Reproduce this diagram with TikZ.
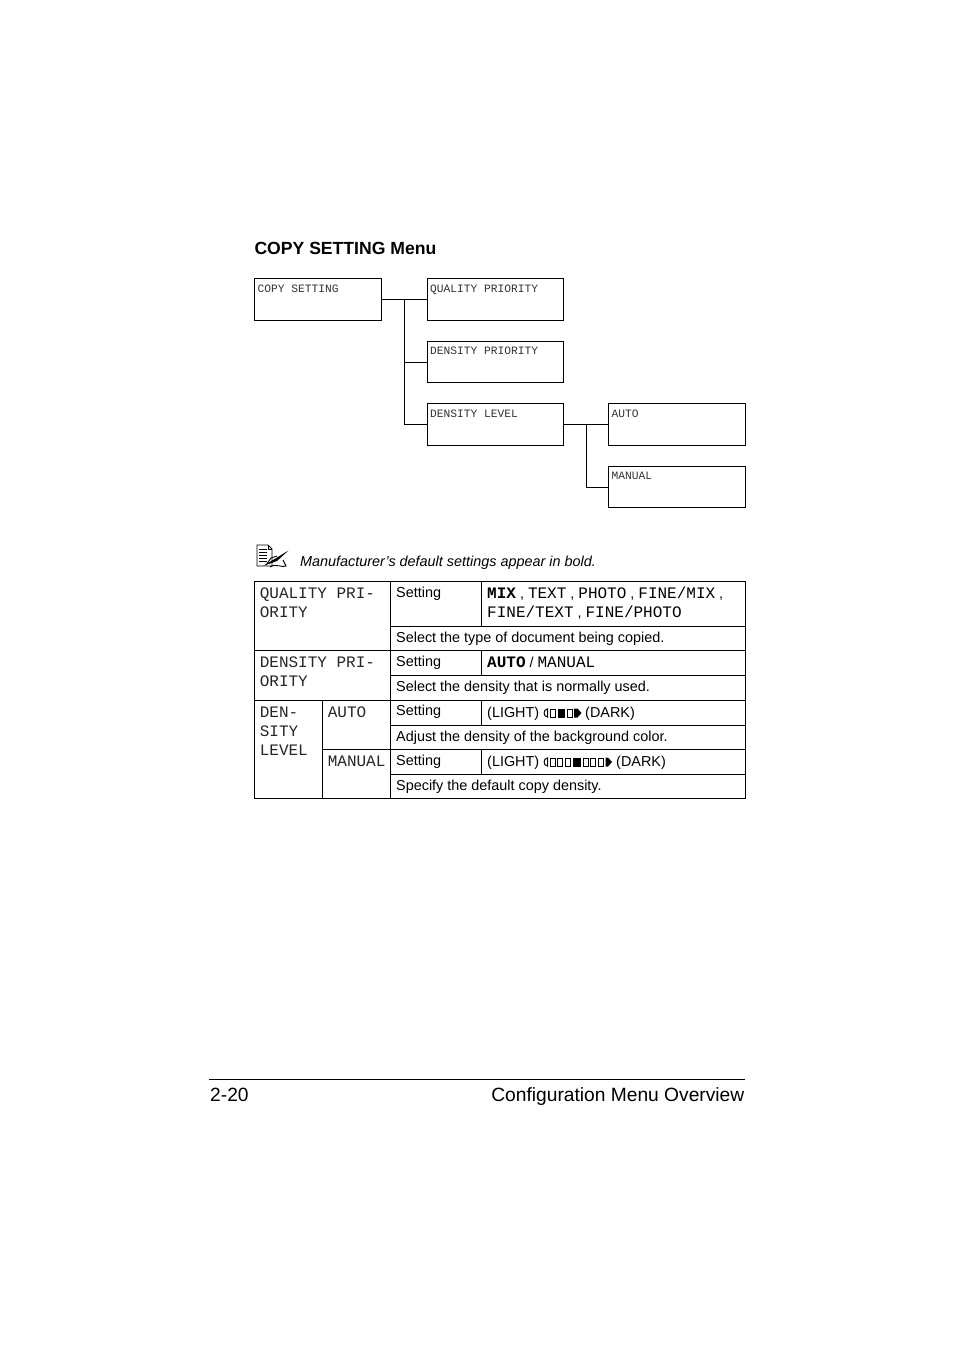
\documentclass[tikz,border=0pt]{standalone}
\usepackage{fontspec}
\setmainfont{Liberation Sans}
\setmonofont{Liberation Mono}
\newcommand{\sz}[1]{\fontsize{#1}{#1}\selectfont}
\newcommand{\mn}[1]{{\ttfamily\sz{16}#1}}
\newcommand{\mb}[1]{{\ttfamily\bfseries\sz{16}#1}}
\tikzset{
  x=1pt,y=-1pt,
  menubox/.style={draw=black,line width=0.9pt,minimum height=42pt,inner sep=0pt,outer sep=0pt,anchor=north west},
  boxlabel/.style={anchor=base west,inner sep=0pt,font=\ttfamily\fontsize{11.25}{11.25}\selectfont,text=black!80},
  wire/.style={draw=black,line width=0.9pt},
  rule/.style={draw=black,line width=0.9pt},
  cell/.style={anchor=base west,inner sep=0pt,font=\fontsize{14.4}{14.4}\selectfont},
  celltt/.style={anchor=base west,inner sep=0pt,font=\ttfamily\fontsize{16}{16}\selectfont,text=black!85},
}
\begin{document}
\begin{tikzpicture}
\useasboundingbox[fill=white] (0,0) rectangle (954,1350);
\node[anchor=base west,inner sep=0pt,font=\bfseries\fontsize{17.6}{17.6}\selectfont] (title) at (254.3,254) {COPY SETTING Menu};
% tree
\node[menubox,minimum width=127pt] (cs) at (254.5,278.5) {};
\node[menubox,minimum width=136pt] (qp) at (427.5,278.5) {};
\node[menubox,minimum width=136pt,minimum height=41pt] (dp) at (427.5,341.5) {};
\node[menubox,minimum width=136pt] (dl) at (427.5,403.5) {};
\node[menubox,minimum width=137pt] (au) at (608.5,403.5) {};
\node[menubox,minimum width=137pt,minimum height=41pt] (ma) at (608.5,466.5) {};
\node[boxlabel] (csl) at (257.5,292) {COPY SETTING};
\node[boxlabel] (qpl) at (430,292) {QUALITY PRIORITY};
\node[boxlabel] (dpl) at (430,354) {DENSITY PRIORITY};
\node[boxlabel] (dll) at (430,417) {DENSITY LEVEL};
\node[boxlabel] (aul) at (611.5,417) {AUTO};
\node[boxlabel] (mal) at (611.5,479) {MANUAL};
\coordinate (tr1) at (404.5,299.5);
\coordinate (tr2) at (586.5,424.5);
\draw[wire] (cs.east) -- (qp.west);
\draw[wire] (tr1) |- (dp.west);
\draw[wire] (tr1) |- (dl.west);
\draw[wire] (dl.east) -- (au.west);
\draw[wire] (tr2) |- (ma.west);
% note icon
\begin{scope}[line width=0.9pt]
\draw (257,545) -- (268,545) -- (272,549) -- (272,566) -- (257,566) -- cycle;
\draw (268,545) -- (268,549) -- (272,549);
\foreach \yy in {549,552,555,558,561} \draw (259,\yy) -- (267,\yy);
\draw (266,565) -- (271,558) -- (277,556);
\draw (270,567) .. controls (276,563) and (282,568) .. (286,566) -- (283,560);
\fill (263,566) -- (288.5,550.5) -- (277,561) -- cycle;
\end{scope}
\node[anchor=base west,inner sep=0pt,font=\itshape\fontsize{14.4}{14.4}\selectfont] (note) at (300,566) {Manufacturer’s default settings appear in bold.};
% table
\draw[rule] (254.5,581.5) rectangle (745.5,798.5);
\draw[rule] (254.5,650.5) -- (745.5,650.5);
\draw[rule] (254.5,700.5) -- (745.5,700.5);
\draw[rule] (322.5,749.5) -- (745.5,749.5);
\draw[rule] (390.5,626.5) -- (745.5,626.5);
\draw[rule] (390.5,675.5) -- (745.5,675.5);
\draw[rule] (390.5,725.5) -- (745.5,725.5);
\draw[rule] (390.5,774.5) -- (745.5,774.5);
\draw[rule] (390.5,581.5) -- (390.5,798.5);
\draw[rule] (322.5,700.5) -- (322.5,798.5);
\draw[rule] (481.5,581.5) -- (481.5,626.5);
\draw[rule] (481.5,650.5) -- (481.5,675.5);
\draw[rule] (481.5,700.5) -- (481.5,725.5);
\draw[rule] (481.5,749.5) -- (481.5,774.5);
% left column
\node[celltt] (a1) at (259.6,598) {QUALITY PRI-};
\node[celltt] (a2) at (259.6,617) {ORITY};
\node[celltt] (b1) at (259.6,667) {DENSITY PRI-};
\node[celltt] (b2) at (259.6,686) {ORITY};
\node[celltt] (c1) at (259.6,717) {DEN-};
\node[celltt] (c2) at (259.6,736) {SITY};
\node[celltt] (c3) at (259.6,755) {LEVEL};
\node[celltt] (d1) at (327.6,717) {AUTO};
\node[celltt] (d2) at (327.6,766) {MANUAL};
% settings
\node[cell] (s1) at (396,597) {Setting};
\node[cell] (s2) at (396,666) {Setting};
\node[cell] (s3) at (396,715) {Setting};
\node[cell] (s4) at (396,765) {Setting};
\node[cell] (v1) at (487,598) {\mb{MIX} , \mn{TEXT} , \mn{PHOTO} , \mn{FINE/MIX} ,};
\node[cell] (v1b) at (487,617) {\mn{FINE/TEXT} , \mn{FINE/PHOTO}};
\node[cell] (v2) at (487,667) {\mb{AUTO} / \mn{MANUAL}};
\node[cell] (v3) at (487,717) {(LIGHT)};
\node[cell] (v3b) at (585,717) {(DARK)};
\node[cell] (v4) at (487,766) {(LIGHT)};
\node[cell] (v4b) at (616,766) {(DARK)};
\node[cell] (t1) at (396,642) {Select the type of document being copied.};
\node[cell] (t2) at (396,691) {Select the density that is normally used.};
\node[cell] (t3) at (396,741) {Adjust the density of the background color.};
\node[cell] (t4) at (396,790) {Specify the default copy density.};
% density scale 1
\begin{scope}[line width=1pt]
\draw (547.5,709) .. controls (543,709) and (543,717) .. (547.5,717) -- cycle;
\draw (550,709) rectangle (555,717);
\fill (557.5,708.5) rectangle (564.5,717.5);
\draw (567,709) rectangle (572,717);
\fill (574,708.5) -- (577.5,708.5) -- (581.5,713) -- (577.5,717.5) -- (574,717.5) -- cycle;
% density scale 2
\draw (547.5,758) .. controls (543,758) and (543,766) .. (547.5,766) -- cycle;
\foreach \xx in {550,557.5,565} \draw (\xx,758) rectangle (\xx+5,766);
\fill (573,757.5) rectangle (581,766.5);
\foreach \xx in {583,590.5,598} \draw (\xx,758) rectangle (\xx+5,766);
\fill (605.5,757.5) -- (608,757.5) -- (612,762) -- (608,766.5) -- (605.5,766.5) -- cycle;
\end{scope}
% footer
\draw[rule] (209,1079.5) -- (745,1079.5);
\node[anchor=base west,inner sep=0pt,font=\fontsize{19.2}{19.2}\selectfont] (pg) at (210,1101) {2-20};
\node[anchor=base east,inner sep=0pt,font=\fontsize{19.2}{19.2}\selectfont] (ft) at (744.5,1101) {Configuration Menu Overview};
\end{tikzpicture}
\end{document}
